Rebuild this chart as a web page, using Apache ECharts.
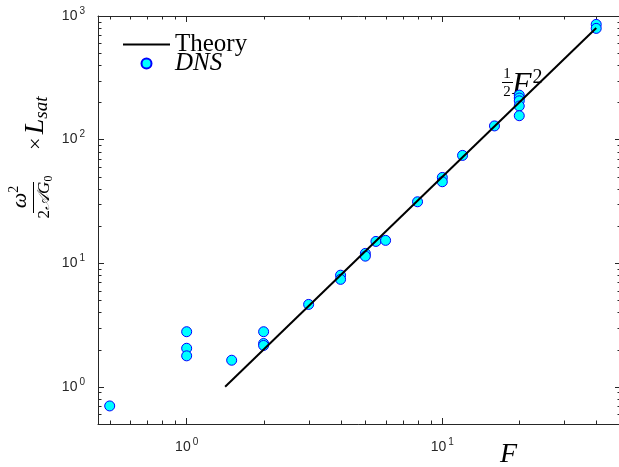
<!DOCTYPE html>
<html>
<head>
<meta charset="utf-8">
<script src="https://cdn.jsdelivr.net/npm/echarts@6/dist/echarts.min.js"></script>
<style>
  html, body { margin: 0; padding: 0; background: #fff; }
  #chart { width: 619px; height: 467px; }
</style>
</head>
<body>
<div id="chart"></div>
<script>
// theory curve 1/2 F^2, end points
const theoryF = [1.414, 40];
const theoryY = [1.0, 800];

// DNS points
const dnsF = [0.5, 1, 1, 1, 1.5, 2, 2, 2, 3, 4, 4, 5, 5, 5.5, 6, 8, 10, 10, 12, 16, 20, 20, 20, 20, 20, 40, 40];
const dnsY = [0.70, 2.79, 2.05, 1.78, 1.64, 2.79, 2.24, 2.16, 4.64, 8.0, 7.4, 12.0, 11.4, 15.0, 15.3, 31.4, 49.4, 45.6, 74.5, 129, 229, 217, 206, 187, 156, 855, 794];

// minor tick positions (log axes)
const xMinorTicks = [0.5, 0.6, 0.7, 0.8, 0.9, 2, 3, 4, 5, 6, 7, 8, 9, 20, 30, 40];
const yMinorTicks = [0.6, 0.7, 0.8, 0.9, 2, 3, 4, 5, 6, 7, 8, 9, 20, 30, 40, 50, 60, 70, 80, 90, 200, 300, 400, 500, 600, 700, 800, 900];

const X_MIN = 0.45, X_MAX = 50, Y_MIN = 0.5, Y_MAX = 1000;
const AXIS_COLOR = '#262626';
const SERIF = 'Liberation Serif, Times New Roman, serif';
const SANS = 'Liberation Sans, Arial, sans-serif';
const MINOR = 3.5;

function powLabel(v) {
  const e = Math.log10(v);
  const n = Math.round(e);
  if (Math.abs(e - n) > 1e-6) return '';
  return '{b|10}{s|' + n + '}';
}

const labelRich = {
  b: { fontSize: 14, fontFamily: SANS, color: AXIS_COLOR },
  s: { fontSize: 10, fontFamily: SANS, color: AXIS_COLOR, padding: [0, 0, 10, 2] }
};

function logAxis(min, max, pos, showLabel) {
  return {
    type: 'log', logBase: 10, min: min, max: max, position: pos,
    axisLine: { show: true, onZero: false, lineStyle: { color: AXIS_COLOR, width: 1 } },
    axisTick: { show: true, inside: true, length: 6, lineStyle: { color: AXIS_COLOR } },
    axisLabel: { show: showLabel, formatter: powLabel, rich: labelRich, margin: 10 },
    splitLine: { show: false },
    minorTick: { show: false }
  };
}

function crisp(v) { return Math.round(v) + 0.5; }

function renderXMinor(params, api) {
  const cs = params.coordSys;
  const x = crisp(api.coord([api.value(0), 1])[0]);
  const yb = cs.y + cs.height, yt = cs.y;
  const st = { stroke: AXIS_COLOR, lineWidth: 1 };
  return { type: 'group', children: [
    { type: 'line', shape: { x1: x, y1: yb, x2: x, y2: yb - MINOR }, style: st },
    { type: 'line', shape: { x1: x, y1: yt, x2: x, y2: yt + MINOR }, style: st }
  ] };
}

function renderYMinor(params, api) {
  const cs = params.coordSys;
  const y = crisp(api.coord([1, api.value(1)])[1]);
  const xl = cs.x, xr = cs.x + cs.width;
  const st = { stroke: AXIS_COLOR, lineWidth: 1 };
  return { type: 'group', children: [
    { type: 'line', shape: { x1: xl, y1: y, x2: xl + MINOR, y2: y }, style: st },
    { type: 'line', shape: { x1: xr, y1: y, x2: xr - MINOR, y2: y }, style: st }
  ] };
}

const chart = echarts.init(document.getElementById('chart'), null, { renderer: 'canvas' });

const xAxisMain = logAxis(X_MIN, X_MAX, 'bottom', true);
xAxisMain.axisLabel.margin = 13;
const yAxisMain = logAxis(Y_MIN, Y_MAX, 'left', true);
yAxisMain.axisLabel.margin = 13;

chart.setOption({
  animation: false,
  backgroundColor: '#fff',
  grid: { left: 98, top: 16, width: 523, height: 408, containLabel: false, outerBoundsMode: 'none' },
  xAxis: [xAxisMain, logAxis(X_MIN, X_MAX, 'top', false)],
  yAxis: [yAxisMain, logAxis(Y_MIN, Y_MAX, 'right', false)],
  legend: {
    data: [{ name: 'Theory', itemStyle: { opacity: 0 } }, 'DNS'],
    orient: 'vertical', left: 122, top: 32, padding: 0,
    itemWidth: 47, itemHeight: 10, itemGap: -6,
    formatter: function (n) { return n === 'DNS' ? '{i|DNS}' : '{r|Theory}'; },
    textStyle: {
      color: '#000', fontFamily: SERIF, fontSize: 25, lineHeight: 19,
      rich: {
        r: { fontFamily: SERIF, fontSize: 25, lineHeight: 19, color: '#000' },
        i: { fontFamily: SERIF, fontSize: 25, fontStyle: 'italic', lineHeight: 19, color: '#000' }
      }
    }
  },
  series: [
    {
      name: 'Theory', type: 'line', xAxisIndex: 0, yAxisIndex: 0,
      data: theoryF.map((f, i) => [f, theoryY[i]]),
      symbol: 'none', showSymbol: false,
      lineStyle: { color: '#000', width: 2 },
      itemStyle: { color: '#000' }
    },
    {
      name: 'DNS', type: 'scatter', xAxisIndex: 0, yAxisIndex: 0,
      data: dnsF.map((f, i) => [f, dnsY[i]]),
      symbol: 'circle', symbolSize: 10,
      itemStyle: { color: '#00ffff', borderColor: '#0000ff', borderWidth: 1, opacity: 1 }
    },
    {
      type: 'custom', xAxisIndex: 0, yAxisIndex: 0, silent: true, clip: false,
      data: xMinorTicks.map(v => [v, 1]),
      renderItem: renderXMinor
    },
    {
      type: 'custom', xAxisIndex: 0, yAxisIndex: 0, silent: true, clip: false,
      data: yMinorTicks.map(v => [1, v]),
      renderItem: renderYMinor
    }
  ],
  graphic: [
    // y-axis title, rotated
    {
      type: 'group', x: 0, y: 220, rotation: Math.PI / 2, silent: true,
      children: [
        { type: 'text', x: 23, y: 20, style: {
          text: '{w|ω}{s|2}', align: 'center', verticalAlign: 'middle',
          rich: {
            w: { fontFamily: SERIF, fontSize: 22, fontStyle: 'italic', fill: '#000' },
            s: { fontFamily: SERIF, fontSize: 14, fill: '#000', padding: [0, 0, 12, 0] }
          } } },
        { type: 'line', shape: { x1: 7, y1: 33.5, x2: 38, y2: 33.5 }, style: { stroke: '#000', lineWidth: 1 } },
        { type: 'text', x: 23, y: 45, style: {
          text: '{n|2}{a|𝒜}{g|G}{z|0}', align: 'center', verticalAlign: 'middle',
          rich: {
            n: { fontFamily: SERIF, fontSize: 17, fill: '#000' },
            a: { fontFamily: SERIF, fontSize: 17, fontStyle: 'italic', fill: '#000' },
            g: { fontFamily: SERIF, fontSize: 17, fontStyle: 'italic', fill: '#000' },
            z: { fontFamily: SERIF, fontSize: 12, fill: '#000', padding: [8, 0, 0, 0] }
          } } },
        { type: 'text', x: 70, y: 36, style: {
          text: '{x|×} {L|L}{s|sat}', align: 'left', verticalAlign: 'middle',
          rich: {
            x: { fontFamily: SERIF, fontSize: 22, fill: '#000' },
            L: { fontFamily: SERIF, fontSize: 28, fontStyle: 'italic', fill: '#000' },
            s: { fontFamily: SERIF, fontSize: 19, fontStyle: 'italic', fill: '#000', padding: [12, 0, 0, 0] }
          } } }
      ]
    },
    // x-axis title
    { type: 'text', x: 500, y: 441, silent: true, style: {
      text: 'F', fontFamily: SERIF, fontSize: 28, fontStyle: 'italic', fill: '#000' } },
    // annotation 1/2 F^2
    { type: 'text', x: 507, y: 74, silent: true, style: {
      text: '1', fontFamily: SERIF, fontSize: 15, fill: '#000', align: 'center', verticalAlign: 'middle' } },
    { type: 'line', silent: true, shape: { x1: 502, y1: 82.5, x2: 513, y2: 82.5 }, style: { stroke: '#000', lineWidth: 1 } },
    { type: 'text', x: 507, y: 92, silent: true, style: {
      text: '2', fontFamily: SERIF, fontSize: 15, fill: '#000', align: 'center', verticalAlign: 'middle' } },
    { type: 'text', x: 512, y: 86, silent: true, style: {
      text: '{F|F}{s|2}', align: 'left', verticalAlign: 'middle',
      rich: {
        F: { fontFamily: SERIF, fontSize: 32, fontStyle: 'italic', fill: '#000' },
        s: { fontFamily: SERIF, fontSize: 20, fill: '#000', padding: [0, 0, 16, 1] }
      } } }
  ]
});
</script>
</body>
</html>
